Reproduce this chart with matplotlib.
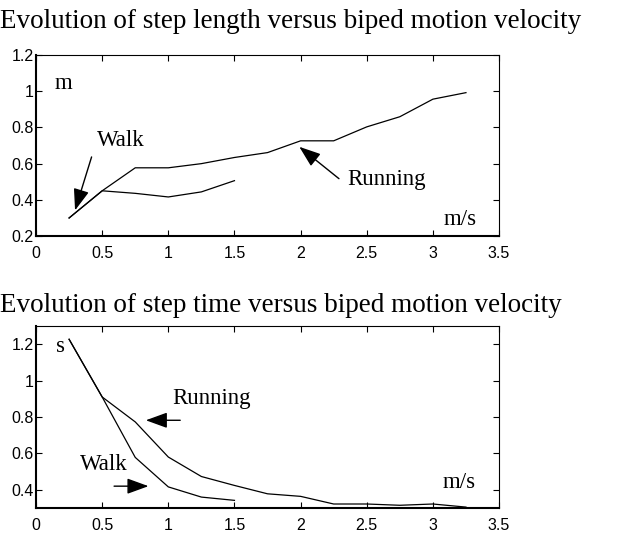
import numpy as np
import matplotlib
matplotlib.use("Agg")
import matplotlib.pyplot as plt

# step length (m) vs velocity (m/s)
vel_run = [0.25, 0.5, 0.75, 1.0, 1.25, 1.5, 1.75, 2.0, 2.25, 2.5, 2.75, 3.0, 3.25]
len_run = [0.30, 0.45, 0.577, 0.577, 0.60, 0.634, 0.661, 0.726, 0.726, 0.803, 0.859, 0.956, 0.992]
vel_walk = [0.25, 0.5, 0.75, 1.0, 1.25, 1.5]
len_walk = [0.30, 0.45, 0.436, 0.416, 0.444, 0.506]

# step time (s) vs velocity (m/s)
time_run = [1.227, 0.91, 0.773, 0.58, 0.473, 0.424, 0.378, 0.364, 0.322, 0.322, 0.315, 0.322, 0.305]
time_walk = [1.227, 0.91, 0.578, 0.416, 0.36, 0.342]

xticks = [0, 0.5, 1, 1.5, 2, 2.5, 3, 3.5]
xticklabels = ['0', '0.5', '1', '1.5', '2', '2.5', '3', '3.5']

serif = 'Liberation Serif'
sans = 'Liberation Sans'

fig = plt.figure(figsize=(6.19, 5.39), dpi=100)
ax1 = fig.add_axes([0.0582, 0.562, 0.748, 0.336])
ax2 = fig.add_axes([0.0582, 0.0575, 0.748, 0.3377])

arrow = dict(arrowstyle='-|>,head_length=1.1,head_width=0.4', color='black', lw=1,
             shrinkA=0, shrinkB=0, mutation_scale=12)


def style(ax):
    ax.set_xlim(0, 3.5)
    ax.set_xticks(xticks)
    ax.set_xticklabels(xticklabels)
    ax.tick_params(direction='in', top=True, right=True, length=4, width=0.8,
                   labelsize=11.5)
    ax.tick_params(axis='x', pad=7)
    ax.tick_params(axis='y', pad=1.5)
    for lab in ax.get_xticklabels() + ax.get_yticklabels():
        lab.set_family(sans)
    for s in ['left', 'bottom']:
        ax.spines[s].set_linewidth(1.5)
    for s in ['top', 'right']:
        ax.spines[s].set_linewidth(0.8)


ax1.plot(vel_run, len_run, color='black', lw=0.9)
ax1.plot(vel_walk, len_walk, color='black', lw=0.9)
ax1.set_ylim(0.2, 1.2)
ax1.set_yticks([0.2, 0.4, 0.6, 0.8, 1.0, 1.2])
ax1.set_yticklabels(['0.2', '0.4', '0.6', '0.8', '1', '1.2'])
style(ax1)
fs = 16.5
ax1.text(0.14, 1.04, 'm', family=serif, fontsize=fs, va='center')
ax1.text(3.08, 0.29, 'm/s', family=serif, fontsize=fs, va='center')
ax1.text(0.46, 0.73, 'Walk', family=serif, fontsize=fs, va='center')
ax1.annotate('', xy=(0.295, 0.342), xytext=(0.42, 0.637), arrowprops=arrow)
ax1.text(2.35, 0.51, 'Running', family=serif, fontsize=fs, va='center')
ax1.annotate('', xy=(1.99, 0.693), xytext=(2.29, 0.517), arrowprops=arrow)

ax2.plot(vel_run, time_run, color='black', lw=0.9)
ax2.plot(vel_walk, time_walk, color='black', lw=0.9)
ax2.set_ylim(0.3, 1.3)
ax2.set_yticks([0.4, 0.6, 0.8, 1.0, 1.2])
ax2.set_yticklabels(['0.4', '0.6', '0.8', '1', '1.2'])
style(ax2)
ax2.text(0.15, 1.19, 's', family=serif, fontsize=fs, va='center')
ax2.text(3.07, 0.44, 'm/s', family=serif, fontsize=fs, va='center')
ax2.text(1.03, 0.90, 'Running', family=serif, fontsize=fs, va='center')
ax2.annotate('', xy=(0.83, 0.782), xytext=(1.09, 0.782), arrowprops=arrow)
ax2.text(0.33, 0.54, 'Walk', family=serif, fontsize=fs, va='center')
ax2.annotate('', xy=(0.85, 0.42), xytext=(0.59, 0.42), arrowprops=arrow)

fig.text(0.0, 1 - 22 / 539, 'Evolution of step length versus biped motion velocity',
         family=serif, fontsize=19.5, va='center', ha='left')
fig.text(0.0, 1 - 305 / 539, 'Evolution of step time versus biped motion velocity',
         family=serif, fontsize=19.5, va='center', ha='left')

fig.savefig('out.png', dpi=100)
